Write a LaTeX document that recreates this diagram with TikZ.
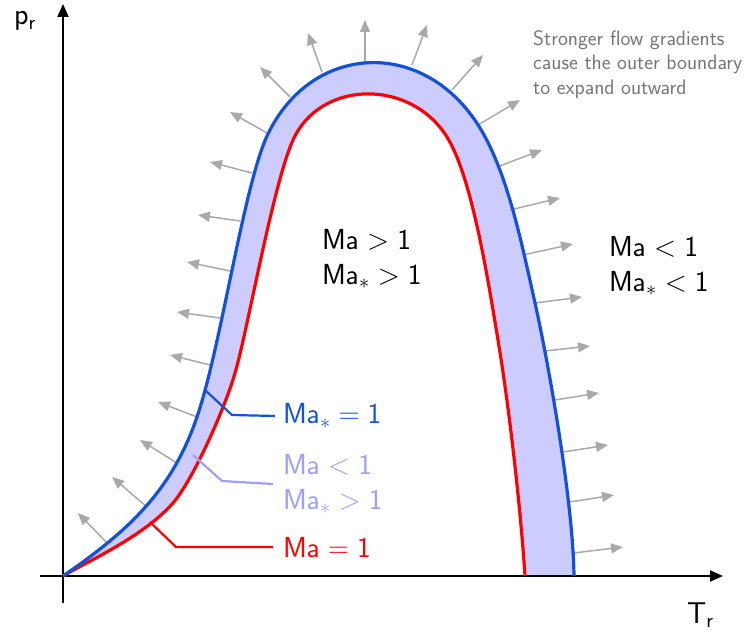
\RequirePackage{fix-cm}
\documentclass[tikz,border=0pt]{standalone}
\usetikzlibrary{arrows.meta}
\definecolor{bluec}{RGB}{18,82,218}
\definecolor{redc}{RGB}{255,0,0}
\definecolor{fillc}{RGB}{204,204,255}
\definecolor{lightc}{RGB}{158,158,255}
\definecolor{arrc}{RGB}{170,168,168}
\definecolor{txtgray}{RGB}{118,118,118}
\newcommand{\MaS}{\mathsf{Ma}_{*}}
\newcommand{\MaN}{\mathsf{Ma}}
\newcommand{\bluepath}{(63,576) .. controls (130,530) and (172,490) .. (197,417)
  .. controls (222,344) and (245,175) .. (270,130)
  .. controls (315,43) and (425,38) .. (480,128)
  .. controls (508,174) and (522,245) .. (535,303)
  .. controls (548,361) and (573,500) .. (574,576)}
\newcommand{\redpath}{(525,576) .. controls (520,500) and (508,400) .. (498,340)
  .. controls (488,280) and (472,177) .. (447,137)
  .. controls (410,78) and (320,80) .. (293,140)
  .. controls (273,184) and (247,333) .. (235,373)
  .. controls (225,408) and (193,480) .. (173,503)
  .. controls (143,537) and (88,561) .. (63,576)}
\begin{document}
\begin{tikzpicture}[x=1pt,y=-1pt,
  growarrow/.style={arrc,line width=1.5pt,-{Triangle[length=12pt,width=10pt]}},
  axisline/.style={black,line width=2pt,-{Triangle[length=13pt,width=11pt]}},
  curve/.style={line width=3.2pt,line join=round},
  lbl/.style={font=\sffamily\fontsize{29}{35}\selectfont,align=left,inner sep=0pt},
  axlbl/.style={font=\sffamily\fontsize{30}{35}\selectfont,inner sep=0pt,anchor=base west},
  leader/.style={line width=2.2pt}]
\useasboundingbox (0,0) rectangle (750,636);
% fill between curves
\fill[fillc] \bluepath -- \redpath -- cycle;
% growth arrows
\foreach \xa/\ya/\xb/\yb in {107/543/78/513,147/507/112/477,177/463/140/440,197/417/158/402,210/365/170/355,220/318/177/312,230/271/187/262,240/221/198/215,252/173/210/162,267/133/230/112,290/97/260/67,322/72/308/33,365/62/365/20,412/65/427/25,452/90/483/55,478/125/520/100,497/167/542/150,510/210/560/198,523/255/573/244,535/303/582/297,545/351/590/346,555/400/599/393,563/452/608/445,570/502/614/495,574/553/623/547}
  \draw[growarrow] (\xa,\ya) -- (\xb,\yb);
% axes
\coordinate (ytop) at (63,4);
\coordinate (ybot) at (63,603);
\coordinate (xl) at (40,576);
\coordinate (xr) at (723,576);
\draw[axisline] (ybot) -- (ytop);
\draw[axisline] (xl) -- (xr);
% curves
\draw[curve,redc] \redpath;
\draw[curve,bluec] \bluepath;
% axis labels
\node[axlbl] (pr) at (14,25) {p$_{\mathsf{r}}$};
\node[axlbl] (tr) at (687,623) {T$_{\mathsf{r}}$};
% region labels
\node[lbl,anchor=west] (sup) at (322,259) {$\MaN > \mathsf{1}$\\$\MaS > \mathsf{1}$};
\node[lbl,anchor=west] (sub) at (609,266) {$\MaN < \mathsf{1}$\\$\MaS < \mathsf{1}$};
\node[lbl,anchor=west,text=bluec] (l1) at (283,416) {$\MaS = \mathsf{1}$};
\node[lbl,anchor=west,text=lightc] (l2) at (283,484) {$\MaN < \mathsf{1}$\\$\MaS > \mathsf{1}$};
\node[lbl,anchor=west,text=redc] (l3) at (283,547) {$\MaN = \mathsf{1}$};
\node[font=\sffamily\fontsize{21}{24.5}\selectfont,text=txtgray,align=left,anchor=north west,inner sep=0pt] (note) at (533,30) {Stronger flow gradients\\cause the outer boundary\\to expand outward};
% leader lines
\coordinate (c1) at (205,390);
\coordinate (c2) at (193,455);
\coordinate (c3) at (150,522);
\draw[leader,bluec] (c1) -- (232,415) -- ([xshift=-8pt]l1.west);
\draw[leader,lightc] (c2) -- (222,481) -- ([xshift=-10pt]l2.west);
\draw[leader,redc] (c3) -- (176,547) -- ([xshift=-10pt]l3.west);
\end{tikzpicture}
\end{document}
